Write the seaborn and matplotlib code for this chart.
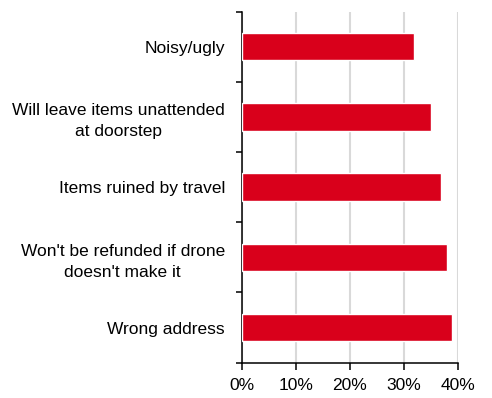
import matplotlib
matplotlib.use("Agg")
import matplotlib.pyplot as plt
import matplotlib.ticker as mticker
import seaborn as sns
import pandas as pd

categories = [
    "Noisy/ugly",
    "Will leave items unattended\nat doorstep",
    "Items ruined by travel",
    "Won't be refunded if drone\ndoesn't make it",
    "Wrong address",
]
shares = [32, 35, 37, 38, 39]
x_ticks = [0, 10, 20, 30, 40]

sns.set_style("white")
plt.rcParams["font.family"] = ["Liberation Sans", "DejaVu Sans"]
plt.rcParams["text.color"] = "black"
plt.rcParams["xtick.color"] = "black"
plt.rcParams["ytick.color"] = "black"

df = pd.DataFrame({"concern": categories, "share": shares})

fig = plt.figure(figsize=(4.92, 3.98), dpi=100)
ax = fig.add_axes([0.491, 0.0889, 0.439, 0.8817])

sns.barplot(data=df, x="share", y="concern", orient="h", color="#D9001B",
            saturation=1, width=0.39, ax=ax, zorder=3)

ax.set_xlim(0, 40)
ax.set_ylim(4.5, -0.5)
ax.set_xticks(x_ticks)
ax.xaxis.set_major_formatter(mticker.FuncFormatter(lambda v, _: f"{v:.0f}%"))
ax.grid(axis="x", color="#D9D9D9", linewidth=1.5, zorder=0)
ax.set_axisbelow(True)
ax.set_xlabel("")
ax.set_ylabel("")

for side in ("top", "right"):
    ax.spines[side].set_visible(False)
for side in ("left", "bottom"):
    ax.spines[side].set_color("black")
    ax.spines[side].set_linewidth(1.1)

ax.yaxis.set_minor_locator(mticker.FixedLocator([-0.5, 0.5, 1.5, 2.5, 3.5, 4.5]))
ax.tick_params(axis="y", which="major", length=0, pad=12, labelsize=12.5, labelcolor="black")
ax.tick_params(axis="y", which="minor", length=4, width=1.1, color="black", direction="out", left=True)
ax.tick_params(axis="x", which="major", length=5, width=1.1, color="black", direction="out",
               bottom=True, labelsize=12.5, pad=6.3, labelcolor="black")
ax.set_yticks(range(len(categories)))
ax.set_yticklabels(categories, multialignment="center", linespacing=1.5)

fig.savefig("out.png", dpi=100)
